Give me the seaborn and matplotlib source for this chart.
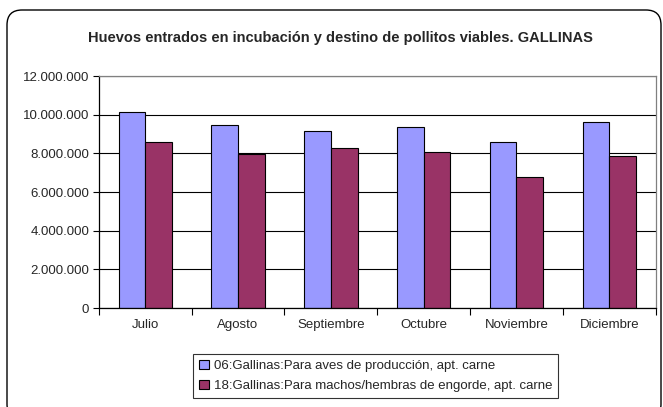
import pandas as pd
import matplotlib.pyplot as plt
import seaborn as sns
from matplotlib.patches import FancyBboxPatch
from matplotlib.ticker import FuncFormatter

# Data
meses = ["Julio", "Agosto", "Septiembre", "Octubre", "Noviembre", "Diciembre"]
produccion = [10140000, 9480000, 9170000, 9360000, 8590000, 9620000]
engorde = [8600000, 7980000, 8280000, 8070000, 6790000, 7880000]
series = ["06:Gallinas:Para aves de producción, apt. carne",
          "18:Gallinas:Para machos/hembras de engorde, apt. carne"]
colores = ["#9999FF", "#993366"]

df = pd.DataFrame({
    "mes": meses * 2,
    "valor": produccion + engorde,
    "serie": [series[0]] * len(meses) + [series[1]] * len(meses),
})

sns.set_style("white")
plt.rcParams['font.family'] = ['Liberation Sans', 'DejaVu Sans']

fig = plt.figure(figsize=(6.63, 4.07), dpi=100)
ax = fig.add_axes([0.149, 0.243, 0.840, 0.570])

sns.barplot(data=df, x="mes", y="valor", hue="serie", palette=colores,
            width=0.575, edgecolor="black", linewidth=0.8, saturation=1,
            ax=ax, legend=True)

ax.set_ylim(0, 12000000)
ax.set_xlim(-0.5, len(meses) - 0.5)
ax.set_yticks(range(0, 12000001, 2000000))
ax.yaxis.set_major_formatter(FuncFormatter(lambda v, p: f"{int(v):,}".replace(",", ".")))
ax.yaxis.grid(True, color="black", linewidth=0.8)
ax.set_axisbelow(True)

# category boundary ticks, labels centered
ax.set_xticks([i - 0.5 for i in range(len(meses) + 1)])
ax.set_xticklabels([])
ax.set_xticks(range(len(meses)), minor=True)
ax.set_xticklabels(meses, minor=True)
ax.tick_params(axis="x", which="major", direction="out", length=5, width=0.8, color="black", bottom=True)
ax.tick_params(axis="x", which="minor", length=0, labelsize=9.5, pad=8)
ax.tick_params(axis="y", direction="out", length=4, width=0.8, color="black", left=True, labelsize=9.5, pad=3)

ax.set_xlabel("")
ax.set_ylabel("")
for side in ["left", "bottom"]:
    ax.spines[side].set_color("black")
    ax.spines[side].set_linewidth(0.9)
for side in ["top", "right"]:
    ax.spines[side].set_color("#808080")
    ax.spines[side].set_linewidth(0.9)

handles, labels = ax.get_legend_handles_labels()
ax.get_legend().remove()
leg = fig.legend(handles, labels, loc="center", bbox_to_anchor=(0.567, 0.076),
                 fontsize=9.5, frameon=True, fancybox=False, edgecolor="black",
                 handlelength=0.7, handleheight=0.7, handletextpad=0.4,
                 labelspacing=0.6, borderpad=0.45)
leg.get_frame().set_linewidth(0.8)

fig.text(0.514, 0.907, "Huevos entrados en incubación y destino de pollitos viables. GALLINAS",
         ha="center", va="center", fontsize=10.5, fontweight="bold")

# outer chart frame with rounded corners (runs past bottom/right edges)
fig.patches.append(FancyBboxPatch((0.07, -0.12), 6.54, 4.09,
                                  boxstyle="round,pad=0,rounding_size=0.15",
                                  transform=fig.dpi_scale_trans, fill=False,
                                  edgecolor="black", linewidth=1))

fig.savefig("out.png", dpi=100)
